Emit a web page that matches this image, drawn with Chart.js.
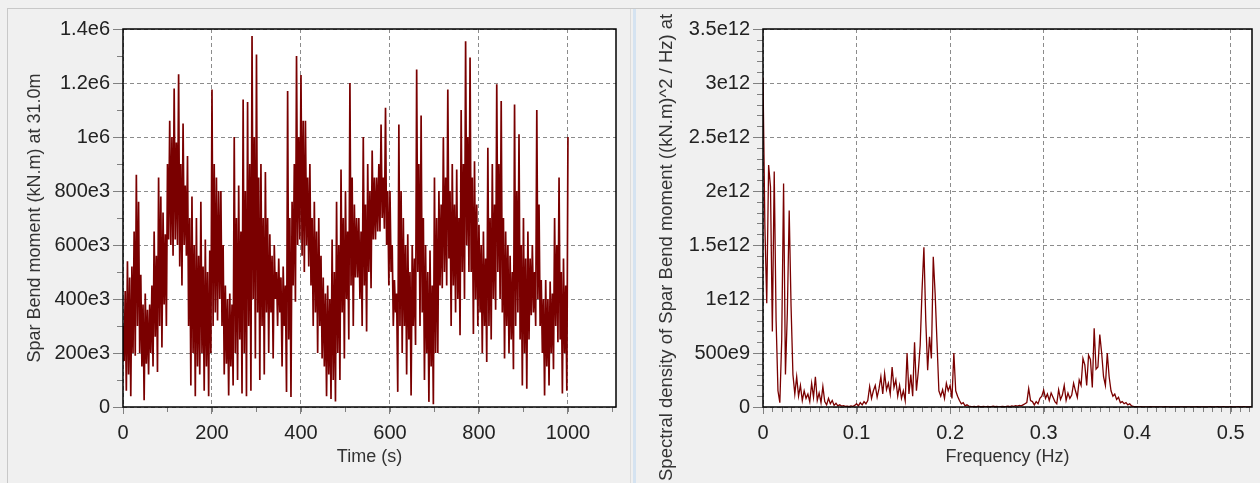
<!DOCTYPE html>
<html>
<head>
<meta charset="utf-8">
<script src="https://cdn.jsdelivr.net/npm/chart.js@4.4.1/dist/chart.umd.min.js"></script>
<style>
  html, body { margin: 0; padding: 0; background: #f0f0f0; width: 1260px; height: 483px; overflow: hidden; }
  #frame-top { position: absolute; left: 7px; top: 8px; width: 1253px; height: 0; border-top: 1px solid #c8c8c8; }
  #frame-left { position: absolute; left: 7px; top: 8px; width: 0; height: 475px; border-left: 1px solid #c8c8c8; }
  #frame-mid { position: absolute; left: 630px; top: 9px; width: 0; height: 474px; border-left: 1px solid #dcdcdc; }
  #splitter { position: absolute; left: 633px; top: 9px; width: 3px; height: 474px; background: #d5e3f1; }
  .panel { position: absolute; top: 0; }
</style>
</head>
<body>
<div id="frame-top"></div>
<div id="frame-left"></div>
<div id="frame-mid"></div>
<div id="splitter"></div>
<canvas id="momentChart" class="panel" width="630" height="483" style="left:0"></canvas>
<canvas id="psdChart" class="panel" width="623" height="483" style="left:637px"></canvas>
<script>
// --- data ---
const TIME_STEP_S = 2.5; // one value every 2.5 s, 0..1000 s
// spar bend moment at 31.0m, thousands of kN.m (peak, trough, peak, trough ...)
const MOMENT_E3 = [
  300, 170, 430, 60, 540, 120, 480, 40, 520, 200, 650, 190, 860, 300, 760, 200, 490, 150, 380, 25,
  420, 160, 360, 120, 380, 200, 450, 150, 650, 260, 560, 130, 850, 300, 780, 220, 720, 380, 640, 300,
  900, 620, 1060, 600, 1000, 560, 1180, 620, 980, 600, 1232, 520, 900, 450, 1050, 600, 820, 560, 930, 300,
  700, 80, 780, 200, 600, 40, 700, 150, 560, 120, 760, 200, 520, 60, 620, 150, 500, 40, 580, 200,
  1176, 300, 900, 350, 850, 320, 800, 400, 800, 300, 600, 120, 450, 160, 400, 43, 420, 150, 380, 80,
  1000, 200, 700, 100, 820, 250, 650, 50, 1139, 200, 800, 40, 1130, 300, 900, 60, 1374, 400, 1000, 180,
  1306, 350, 850, 100, 900, 300, 700, 120, 870, 350, 700, 200, 640, 350, 560, 180, 600, 400, 500, 300,
  550, 350, 480, 150, 520, 300, 450, 56, 1170, 250, 700, 37, 760, 450, 900, 390, 1300, 600, 1000, 620,
  1230, 560, 1060, 500, 1060, 600, 850, 520, 900, 450, 700, 300, 760, 350, 650, 200, 700, 300, 560, 180,
  480, 150, 420, 40, 450, 120, 400, 30, 620, 100, 500, 20, 760, 200, 600, 100, 880, 350, 700, 180,
  800, 400, 650, 250, 1200, 450, 850, 300, 750, 480, 700, 480, 700, 400, 650, 300, 1000, 450, 750, 280,
  900, 500, 800, 440, 950, 620, 850, 620, 850, 650, 900, 650, 1046, 700, 850, 660, 1108, 600, 800, 450,
  800, 500, 600, 300, 470, 350, 420, 56, 1046, 300, 800, 200, 700, 300, 600, 120, 640, 250, 500, 43,
  600, 300, 550, 230, 1250, 500, 900, 300, 1080, 350, 700, 100, 600, 200, 500, 19, 580, 150, 450, 10,
  850, 200, 700, 200, 800, 450, 750, 440, 1000, 500, 850, 450, 1176, 550, 800, 300, 900, 450, 750, 350,
  880, 400, 700, 266, 1100, 500, 900, 400, 1355, 600, 1000, 500, 1294, 500, 850, 270, 910, 400, 750, 300,
  675, 350, 600, 200, 650, 300, 550, 167, 960, 300, 700, 250, 900, 400, 750, 360, 1195, 500, 900, 400,
  1133, 350, 700, 180, 650, 300, 600, 200, 560, 250, 500, 140, 1120, 300, 800, 350, 1010, 250, 600, 80,
  700, 200, 550, 68, 650, 250, 550, 340, 600, 350, 500, 300, 1100, 400, 750, 300, 470, 200, 400, 43,
  470, 150, 400, 80, 465, 200, 420, 140, 700, 300, 600, 240, 850, 250, 500, 50, 550, 200, 450, 60,
  1000
];

const FREQ_STEP_HZ = 0.002; // one value every 0.002 Hz, 0..0.522 Hz
// spectral density, units of 1e9 (kN.m)^2/Hz
const PSD_E9 = [
  3050, 1680, 960, 2240, 2040, 700, 2180, 800, 150, 40,
  620, 2070, 300, 870, 1820, 930, 300, 120, 280, 100,
  200, 60, 150, 80, 120, 50, 220, 90, 280, 60,
  130, 40, 190, 50, 20, 80, 30, 60, 15, 35,
  10, 20, 8, 12, 5, 8, 3, 10, 5, 15,
  30, 10, 40, 20, 50, 30, 60, 190, 80, 150,
  200, 90, 170, 280, 120, 310, 160, 220, 120, 370,
  180, 250, 100, 200, 80, 150, 60, 500, 120, 300,
  100, 600, 150, 330, 570, 1080, 1480, 800, 340, 650,
  450, 1390, 1050, 600, 150, 100, 160, 80, 220, 150,
  200, 80, 500, 150, 100, 60, 30, 40, 10, 20,
  8, 5, 3, 6, 2, 8, 4, 3, 5, 2,
  6, 3, 4, 7, 3, 5, 2, 4, 6, 3,
  5, 8, 4, 10, 6, 12, 8, 15, 10, 20,
  30, 40, 170, 60, 50, 20, 50, 30, 80, 100,
  157, 80, 120, 60, 130, 90, 50, 30, 160, 70,
  110, 200, 60, 130, 80, 110, 220, 150, 90, 250,
  200, 450, 390, 200, 480, 440, 180, 730, 350, 370,
  670, 500, 280, 200, 500, 280, 150, 100, 120, 70,
  90, 40, 50, 30, 40, 20, 30, 10, 5, 3,
  4, 2, 3, 2, 1, 2, 1, 3, 1, 2,
  1, 1, 2, 1, 1, 3, 1, 1, 2, 1,
  1, 2, 1, 1, 1, 2, 1, 1, 1, 2,
  1, 1, 3, 1, 2, 1, 1, 2, 1, 3,
  1, 2, 1, 3, 1, 1, 4, 1, 2, 1,
  3, 1, 2, 1, 4, 1, 2, 3, 1, 2,
  1, 3
];

// --- axes ---
const TIME_TICKS = [0, 200, 400, 600, 800, 1000];
const TIME_TICK_LABELS = ['0', '200', '400', '600', '800', '1000'];
const MOMENT_TICKS = [0, 200e3, 400e3, 600e3, 800e3, 1e6, 1.2e6, 1.4e6];
const MOMENT_TICK_LABELS = ['0', '200e3', '400e3', '600e3', '800e3', '1e6', '1.2e6', '1.4e6'];
const FREQ_TICKS = [0, 0.1, 0.2, 0.3, 0.4, 0.5];
const FREQ_TICK_LABELS = ['0', '0.1', '0.2', '0.3', '0.4', '0.5'];
const PSD_TICKS = [0, 0.5e12, 1e12, 1.5e12, 2e12, 2.5e12, 3e12, 3.5e12];
const PSD_TICK_LABELS = ['0', '500e9', '1e12', '1.5e12', '2e12', '2.5e12', '3e12', '3.5e12'];

const LINE_COLOR = '#7a0000';
const FONT = '"Liberation Sans", Arial, sans-serif';

Chart.defaults.font.family = FONT;
Chart.defaults.color = '#222';

// white plot area, minor ticks, black frame
const plotFrame = {
  id: 'plotFrame',
  beforeDraw(chart) {
    const { ctx, chartArea: a } = chart;
    ctx.save();
    ctx.fillStyle = '#ffffff';
    ctx.fillRect(a.left, a.top, a.right - a.left, a.bottom - a.top);
    ctx.restore();
  },
  afterDraw(chart, args, opts) {
    const { ctx, chartArea: a, scales } = chart;
    const xs = scales.x, ys = scales.y;
    ctx.save();
    ctx.strokeStyle = '#808080';
    ctx.lineWidth = 1;
    ctx.beginPath();
    for (let k = 0; k * opts.xMinor <= xs.max + 1e-12; k++) {
      const px = Math.round(xs.getPixelForValue(k * opts.xMinor)) + 0.5;
      ctx.moveTo(px, a.bottom);
      ctx.lineTo(px, a.bottom + 5);
    }
    for (let k = 0; k * opts.yMinor <= ys.max * (1 + 1e-9); k++) {
      const py = Math.round(ys.getPixelForValue(k * opts.yMinor)) + 0.5;
      ctx.moveTo(a.left - 6, py);
      ctx.lineTo(a.left, py);
    }
    ctx.stroke();
    ctx.strokeStyle = '#000';
    ctx.lineWidth = 1.5;
    ctx.strokeRect(a.left, a.top, a.right - a.left, a.bottom - a.top);
    if (opts.sideTitle) {
      ctx.fillStyle = '#333';
      ctx.font = opts.sideTitle.size + 'px ' + FONT;
      ctx.textAlign = 'left';
      ctx.textBaseline = 'middle';
      ctx.translate(opts.sideTitle.x, opts.sideTitle.y);
      ctx.rotate(-Math.PI / 2);
      ctx.fillText(opts.sideTitle.text, 0, 0);
    }
    ctx.restore();
  }
};

function axisX(ticks, labels, min, max, title) {
  return {
    type: 'linear', min: min, max: max,
    afterBuildTicks: s => { s.ticks = ticks.map(v => ({ value: v })); },
    afterFit: s => { s.height = 76; },
    ticks: { callback: (v, i) => labels[i], font: { size: 20 }, color: '#222', padding: 7, maxRotation: 0, autoSkip: false },
    grid: { color: '#8c8c8c', lineWidth: 1, tickColor: '#808080', tickLength: 7 },
    border: { display: false, dash: [4, 3] },
    title: { display: true, text: title, font: { size: 18 }, color: '#333', padding: { top: 0, bottom: 15 } }
  };
}

function axisY(ticks, labels, max, width, title) {
  return {
    type: 'linear', min: 0, max: max,
    afterBuildTicks: s => { s.ticks = ticks.map(v => ({ value: v })); },
    afterFit: s => { s.width = width; },
    ticks: { callback: (v, i) => labels[i], font: { size: 20 }, color: '#222', padding: 3, autoSkip: false },
    grid: { color: '#8c8c8c', lineWidth: 1, tickColor: '#808080', tickLength: 10 },
    border: { display: false, dash: [4, 3] },
    title: { display: !!title, text: title || '', font: { size: 18 }, color: '#333', padding: { top: 24, bottom: 0 } }
  };
}

function lineSet(points, width) {
  return {
    data: points,
    borderColor: LINE_COLOR,
    borderWidth: width,
    pointRadius: 0,
    tension: 0,
    fill: false
  };
}

new Chart(document.getElementById('momentChart'), {
  type: 'line',
  data: { datasets: [lineSet(MOMENT_E3.map((v, i) => ({ x: i * TIME_STEP_S, y: v * 1e3 })), 1.7)] },
  options: {
    responsive: false,
    animation: false,
    devicePixelRatio: 1,
    layout: { padding: { top: 29, right: 14, left: 0, bottom: 0 } },
    scales: {
      x: axisX(TIME_TICKS, TIME_TICK_LABELS, 0, 1108, 'Time (s)'),
      y: axisY(MOMENT_TICKS, MOMENT_TICK_LABELS, 1.4e6, 123, 'Spar Bend moment (kN.m) at 31.0m')
    },
    plugins: {
      legend: { display: false },
      tooltip: { enabled: false },
      plotFrame: { xMinor: 100, yMinor: 100e3 }
    }
  },
  plugins: [plotFrame]
});

new Chart(document.getElementById('psdChart'), {
  type: 'line',
  data: { datasets: [lineSet(PSD_E9.map((v, i) => ({ x: i * FREQ_STEP_HZ, y: v * 1e9 })), 1.3)] },
  options: {
    responsive: false,
    animation: false,
    devicePixelRatio: 1,
    layout: { padding: { top: 29, right: 8, left: 0, bottom: 0 } },
    scales: {
      x: axisX(FREQ_TICKS, FREQ_TICK_LABELS, 0, 0.5227, 'Frequency (Hz)'),
      y: axisY(PSD_TICKS, PSD_TICK_LABELS, 3.5e12, 126, null)
    },
    plugins: {
      legend: { display: false },
      tooltip: { enabled: false },
      plotFrame: {
        xMinor: 0.01, yMinor: 100e9,
        sideTitle: { text: 'Spectral density of Spar Bend moment ((kN.m)^2 / Hz) at', x: 30, y: 481, size: 18.5 }
      }
    }
  },
  plugins: [plotFrame]
});
</script>
</body>
</html>
